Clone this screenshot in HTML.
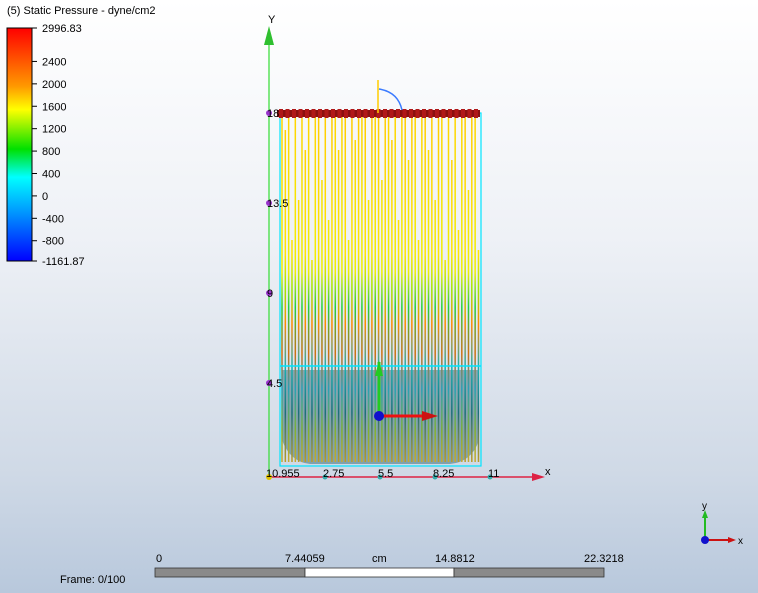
<!DOCTYPE html>
<html><head><meta charset="utf-8"><style>
body{margin:0;width:758px;height:593px;overflow:hidden;font-family:"Liberation Sans",sans-serif;}
#bg{position:absolute;left:0;top:0;width:758px;height:593px;background:linear-gradient(#ffffff 0%,#eef1f6 40%,#cfd9e6 80%,#b8c8dc 100%);}
svg{position:absolute;left:0;top:0}
text{font-family:"Liberation Sans",sans-serif;font-size:11px;fill:#000}
</style></head><body>
<div id="bg"></div>
<svg width="758" height="593" viewBox="0 0 758 593">
<defs>
<linearGradient id="leg" x1="0" y1="0" x2="0" y2="1">
<stop offset="0" stop-color="#ff0000"/><stop offset="0.25" stop-color="#ff9900"/><stop offset="0.35" stop-color="#ffff00"/><stop offset="0.52" stop-color="#00e000"/><stop offset="0.64" stop-color="#00ffff"/><stop offset="0.8" stop-color="#0090ff"/><stop offset="1" stop-color="#0000ff"/></linearGradient>
<linearGradient id="sA" x1="0" y1="113" x2="0" y2="466" gradientUnits="userSpaceOnUse">
<stop offset="0" stop-color="#ffcc00"/><stop offset="0.4" stop-color="#ffe600"/><stop offset="0.5" stop-color="#9ee600"/><stop offset="0.6" stop-color="#ff8800"/><stop offset="0.72" stop-color="#1ab0b0"/><stop offset="0.85" stop-color="#1e6f7a"/><stop offset="1" stop-color="#c8a020"/></linearGradient>
<linearGradient id="sB" x1="0" y1="113" x2="0" y2="466" gradientUnits="userSpaceOnUse">
<stop offset="0" stop-color="#ffd400"/><stop offset="0.45" stop-color="#f0f000"/><stop offset="0.55" stop-color="#20d040"/><stop offset="0.68" stop-color="#d07010"/><stop offset="0.78" stop-color="#28a0b8"/><stop offset="0.9" stop-color="#80b030"/><stop offset="1" stop-color="#d0a830"/></linearGradient>
</defs>
<text x="7" y="14">(5) Static Pressure - dyne/cm2</text>
<rect x="7" y="28" width="25" height="233" fill="url(#leg)" stroke="#000"/>
<g id="legticks"></g>
<g id="flow"></g>
<rect x="280" y="113" width="201" height="353" fill="none" stroke="#00e5ff" stroke-width="1.2"/>
<line x1="280" y1="366" x2="481" y2="366" stroke="#00e5ff" stroke-width="1.5"/>
<g id="lid"></g>
<line x1="378" y1="80" x2="378" y2="113" stroke="#ffcc00" stroke-width="1.5"/>
<path d="M379 89 Q398 92 402 110" fill="none" stroke="#3b7bff" stroke-width="1.5"/>
<line x1="269" y1="40" x2="269" y2="477" stroke="#33dd33" stroke-width="1.2"/>
<polygon points="269,26 264,45 274,45" fill="#2fbf2f"/>
<text x="268" y="23">Y</text>
<line x1="269" y1="477" x2="540" y2="477" stroke="#dd2244" stroke-width="1.5"/>
<polygon points="545,477 532,473 532,481" fill="#dd2244"/>
<text x="545" y="475">x</text>
<g id="yt"></g><g id="xt"></g>
<circle cx="269" cy="477" r="3" fill="#e0c000"/>
<text x="266" y="477" style="font-size:11px">10.955</text>
<line x1="379" y1="416" x2="379" y2="362" stroke="#22cc22" stroke-width="3"/><polygon points="379,360 375,376 383,376" fill="#22cc22"/>
<line x1="379" y1="416" x2="425" y2="416" stroke="#ee1111" stroke-width="3"/><polygon points="438,416 422,411 422,421" fill="#cc1111"/>
<circle cx="379" cy="416" r="5" fill="#1010cc"/>
<text x="156" y="562">0</text>
<text x="285" y="562">7.44059</text>
<text x="372" y="562">cm</text>
<text x="435" y="562">14.8812</text>
<text x="584" y="562">22.3218</text>
<rect x="155" y="568" width="150" height="9" fill="#8a8a8a" stroke="#333" stroke-width="0.8"/>
<rect x="305" y="568" width="149" height="9" fill="#fff" stroke="#333" stroke-width="0.8"/>
<rect x="454" y="568" width="150" height="9" fill="#8a8a8a" stroke="#333" stroke-width="0.8"/>
<text x="60" y="583">Frame: 0/100</text>
<g>
<line x1="705" y1="540" x2="705" y2="515" stroke="#22bb22" stroke-width="2"/><polygon points="705,510 702,518 708,518" fill="#22bb22"/>
<line x1="705" y1="540" x2="730" y2="540" stroke="#cc1111" stroke-width="2"/><polygon points="736,540 728,537 728,543" fill="#cc1111"/>
<circle cx="705" cy="540" r="4" fill="#1111cc"/>
<text x="702" y="509" style="font-size:10px">y</text><text x="738" y="544" style="font-size:10px">x</text></g>
</svg>
<script>
const legendTicks=["2996.83","2400","2000","1600","1200","800","400","0","-400","-800","-1161.87"];
const legendVals=[2996.83,2400,2000,1600,1200,800,400,0,-400,-800,-1161.87];
const yTicks=["18","13.5","9","4.5"];const yVals=[18,13.5,9,4.5];
const xTicks=["2.75","5.5","8.25","11"];const xVals=[2.75,5.5,8.25,11];
const streamTops=[118,130,113,240,113,200,113,150,113,260,113,113,180,113,220,113,113,150,113,113,240,113,140,113,113,113,200,113,113,113,180,113,113,140,113,220,113,113,160,113,113,240,113,113,150,113,200,113,113,260,113,160,113,230,113,113,190,113,113,250];
const NS="http://www.w3.org/2000/svg";
function mk(t,a,p){const e=document.createElementNS(NS,t);for(const k in a)e.setAttribute(k,a[k]);p.appendChild(e);return e;}
const lv=v=>28+(2996.83-v)/(2996.83+1161.87)*233;
const lt=document.getElementById('legticks');
legendVals.forEach((v,i)=>{const y=lv(v);mk('line',{x1:32,y1:y,x2:37,y2:y,stroke:'#000'},lt);
const t=mk('text',{x:42,y:y+4},lt);t.textContent=legendTicks[i];

});
const ys=v=>473-v*20, xs=v=>270+v*20;
const yt=document.getElementById('yt');
yVals.forEach((v,i)=>{const y=ys(v);const c=mk('circle',{cx:269,cy:y,r:3,fill:'#9933cc'},yt);


const t=mk('text',{x:267,y:y+4},yt);t.textContent=yTicks[i];});
const xt=document.getElementById('xt');
xVals.forEach((v,i)=>{const x=xs(v);const c=mk('circle',{cx:x,cy:477,r:2.5,fill:'#33aaaa'},xt);


const t=mk('text',{x:x-2,y:477},xt);t.textContent=xTicks[i];});
const fl=document.getElementById('flow');
mk('path',{d:'M282 370 L282 440 Q290 462 310 464 L450 464 Q472 462 479 440 L479 370 Z',fill:'#1f5c66',opacity:0.45},fl);
streamTops.forEach((top,i)=>{const x=282+i*3.33;
const l=mk('line',{x1:x,y1:top,x2:x,y2:462,stroke:i%2?'url(#sA)':'url(#sB)','stroke-width':1.5},fl);

});
const lid=document.getElementById('lid');
mk('rect',{x:277,y:110,width:203,height:7,fill:'#8b1010'},lid);
for(let x=279;x<480;x+=6.5)mk('rect',{x:x,y:109,width:4,height:9,fill:'#b01818'},lid);
</script>
</body></html>
